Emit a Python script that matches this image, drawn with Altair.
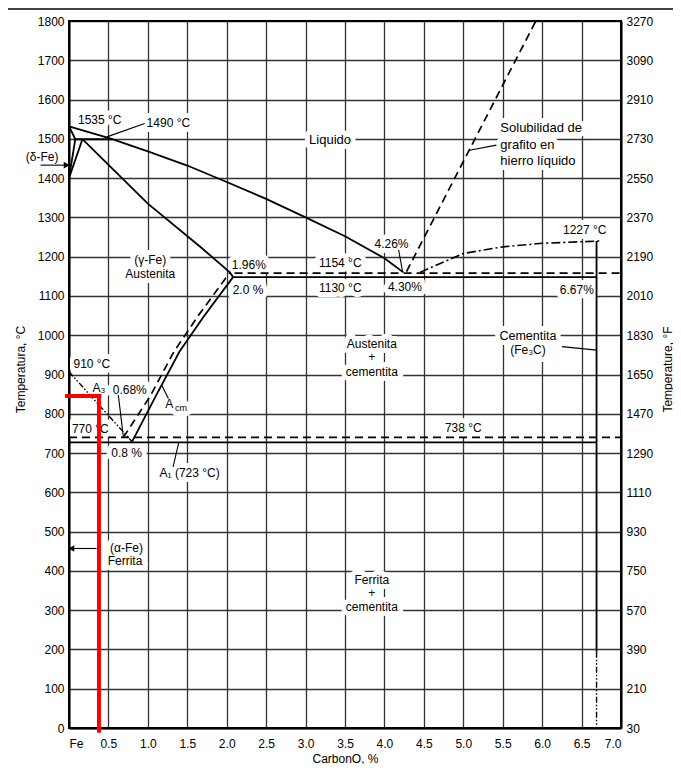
import altair as alt
import pandas as pd

X_TICKS = [i * 0.5 for i in range(15)]
Y_TICKS = list(range(0, 1900, 100))
FRAME_C = [0, 7, 7, 0, 0]
FRAME_T = [0, 0, 1800, 1800, 0]

# ---- solid phase boundaries (carbon %, deg C) ----
liquidus_c = [0.0, 0.52, 1.0, 1.5, 2.0, 2.5, 3.0, 3.5, 4.0, 4.24]
liquidus_t = [1532, 1501, 1468, 1432, 1390, 1347, 1300, 1252, 1196, 1160]
peritectic_c = [0.06, 0.55]
peritectic_t = [1499, 1499]
delta_solidus_c = [0.0, 0.08]
delta_solidus_t = [1532, 1499]
delta_solvus_c = [0.0, 0.08]
delta_solvus_t = [1400, 1499]
gamma_delta_c = [0.0, 0.17]
gamma_delta_t = [1400, 1499]
solidus_c = [0.17, 1.0, 1.66, 2.04, 2.08]
solidus_t = [1499, 1335, 1226, 1160, 1148]
eutectic_c = [2.08, 6.69]
eutectic_t = [1148, 1148]
acm_c = [0.80, 1.10, 1.40, 1.70, 2.08]
acm_t = [729, 845, 958, 1045, 1148]
a1_c = [0.0, 6.69]
a1_t = [727, 727]
cem_c = [6.69, 6.69]
cem_t = [1240, 194]

# ---- dashed (graphite system) ----
eut_g_c = [2.10, 7.0]
eut_g_t = [1158, 1158]
eutd_g_c = [0.0, 7.0]
eutd_g_t = [740, 740]
graphite_c = [4.28, 5.92]
graphite_t = [1162, 1800]
acm_g_c = [0.69, 1.03, 1.33, 1.64, 2.04]
acm_g_t = [740, 845, 958, 1050, 1160]

# ---- dash-dot ----
cem_liq_c = [4.45, 5.0, 5.5, 6.0, 6.5, 6.75]
cem_liq_t = [1160, 1208, 1225, 1234, 1238, 1240]

# ---- dash-dot-dot ----
a3_c = [0.0, 0.80]
a3_t = [907, 729]
cem_low_c = [6.69, 6.69]
cem_low_t = [194, 0]

# ---- leader lines ----
ptr_1490_c = [0.96, 0.48]
ptr_1490_t = [1539, 1505]
ptr_graf_c = [5.42, 5.08]
ptr_graf_t = [1484, 1471]
ptr_426_c = [4.18, 4.23]
ptr_426_t = [1217, 1162]
ptr_cem_c = [6.25, 6.69]
ptr_cem_t = [971, 962]
ptr_068_c = [0.625, 0.69]
ptr_068_t = [848, 740]
ptr_a1_c = [1.32, 1.39]
ptr_a1_t = [665, 725]
ptr_acm_c = [1.26, 1.175]
ptr_acm_t = [839, 873]

# ---- arrows ----
arrow_delta_c = [-0.36, -0.04]
arrow_delta_t = [1433, 1433]
arrow_alpha_c = [0.35, 0.04]
arrow_alpha_t = [457, 457]
head_c = [-0.03, 0.03]
head_t = [1433, 457]
head_shape = ["triangle-right", "triangle-left"]

# ---- red annotation ----
red_h_c = [-0.05, 0.41]
red_h_t = [845, 845]
red_v_c = [0.38, 0.38]
red_v_t = [850, -12]

# ---- labels ----
lab_text = ["1535 °C", "1490 °C", "(δ-Fe)", "Liquido", "(γ-Fe)", "Austenita",
            "1.96%", "2.0 %", "1154 °C", "1130 °C", "4.26%", "4.30%",
            "1227 °C", "6.67%", "Austenita", "+", "cementita",
            "Cementita", "(Fe₃C)", "738 °C", "910 °C", "A₃", "0.68%",
            "770 °C", "0.8 %", "A₁ (723 °C)", "A", "cm",
            "(α-Fe)", "Ferrita", "Ferrita", "+", "cementita"]
lab_c = [0.39, 1.26, -0.34, 3.31, 1.03, 1.03,
         2.28, 2.27, 3.44, 3.44, 4.09, 4.26,
         6.54, 6.44, 3.84, 3.84, 3.84,
         5.82, 5.82, 5.0, 0.29, 0.38, 0.77,
         0.27, 0.73, 1.53, 1.27, 1.42,
         0.73, 0.71, 3.84, 3.84, 3.84]
lab_t = [1548, 1540, 1454, 1497, 1191, 1156,
         1179, 1115, 1183, 1119, 1232, 1122,
         1268, 1115, 978, 944, 906,
         998, 962, 764, 927, 865, 860,
         760, 699, 648, 825, 815,
         459, 426, 377, 344, 308]
lab_fs = [12, 12, 12, 13, 12, 12,
          12, 12, 12, 12, 12, 12,
          12, 12, 12, 12, 12,
          12.5, 12, 12, 12, 12, 12,
          12, 12, 12, 12, 9,
          12, 12, 12, 12, 12]

sol_text = ["Solubilidad de", "grafito en", "hierro líquido"]
sol_c = [5.47, 5.47, 5.47]
sol_t = [1527, 1484, 1444]
sol_fs = [13, 13, 13]


def lines(items):
    rows = []
    for name, cs, ts in items:
        for i, (c, t) in enumerate(zip(cs, ts)):
            rows.append({"name": name, "o": i, "c": c, "t": t})
    return pd.DataFrame(rows)


FONT = "Liberation Sans"
XS = alt.Scale(domain=[0, 7], nice=False, zero=False)
YS = alt.Scale(domain=[0, 1800], nice=False, zero=False)

x_axis = alt.Axis(values=X_TICKS,
                  labelExpr="datum.value == 0 ? 'Fe' : format(datum.value, '.1f')",
                  title="CarbonO, %", grid=True, labelPadding=10,
                  titleY=30, titleBaseline="middle", titleFontSize=12)
y_axis = alt.Axis(values=Y_TICKS, format="d", title="Temperatura, °C",
                  grid=True, labelPadding=5, titleAngle=270, titleX=-49,
                  titleY=348, titleBaseline="middle", titleAlign="center",
                  titleFontSize=12)


def X():
    return alt.X("c:Q", scale=XS, axis=x_axis)


def Y():
    return alt.Y("t:Q", scale=YS, axis=y_axis)


solid_df = lines([
    ("liq", liquidus_c, liquidus_t),
    ("per", peritectic_c, peritectic_t),
    ("dsol", delta_solidus_c, delta_solidus_t),
    ("dsv", delta_solvus_c, delta_solvus_t),
    ("gd", gamma_delta_c, gamma_delta_t),
    ("sol", solidus_c, solidus_t),
    ("eut", eutectic_c, eutectic_t),
    ("acm", acm_c, acm_t),
    ("a1", a1_c, a1_t),
    ("cem", cem_c, cem_t),
])
dashed_df = lines([
    ("eg", eut_g_c, eut_g_t),
    ("edg", eutd_g_c, eutd_g_t),
    ("gr", graphite_c, graphite_t),
    ("acmg", acm_g_c, acm_g_t),
])
dashdot_df = lines([("cl", cem_liq_c, cem_liq_t)])
ddd_df = lines([("a3", a3_c, a3_t), ("cl2", cem_low_c, cem_low_t)])
ptr_df = lines([
    ("p1", ptr_1490_c, ptr_1490_t),
    ("p2", ptr_graf_c, ptr_graf_t),
    ("p3", ptr_426_c, ptr_426_t),
    ("p4", ptr_cem_c, ptr_cem_t),
    ("p5", ptr_068_c, ptr_068_t),
    ("p6", ptr_a1_c, ptr_a1_t),
    ("p7", ptr_acm_c, ptr_acm_t),
    ("ad", arrow_delta_c, arrow_delta_t),
    ("aa", arrow_alpha_c, arrow_alpha_t),
])
frame_df = lines([("frame", FRAME_C, FRAME_T)])
red_df = lines([("rh", red_h_c, red_h_t), ("rv", red_v_c, red_v_t)])
head_df = pd.DataFrame({"c": head_c, "t": head_t, "s": head_shape})
lab_df = pd.DataFrame({"txt": lab_text, "c": lab_c, "t": lab_t, "fs": lab_fs})
sol_df = pd.DataFrame({"txt": sol_text, "c": sol_c, "t": sol_t, "fs": sol_fs})

SIZE = alt.Size("fs:Q", scale=None, legend=None)

halo = alt.Chart(lab_df).mark_text(font=FONT, color="white", stroke="white",
                                   strokeWidth=10, strokeJoin="round").encode(
    x=X(), y=Y(), text="txt:N", size=SIZE)
halo2 = alt.Chart(sol_df).mark_text(font=FONT, align="left", color="white",
                                    stroke="white", strokeWidth=10,
                                    strokeJoin="round").encode(
    x=X(), y=Y(), text="txt:N", size=SIZE)

frame = alt.Chart(frame_df).mark_line(color="black", strokeWidth=2).encode(
    x=X(), y=Y(), detail="name:N", order="o:Q")
solid = alt.Chart(solid_df).mark_line(color="black", strokeWidth=1.8).encode(
    x=X(), y=Y(), detail="name:N", order="o:Q")
dashed = alt.Chart(dashed_df).mark_line(color="black", strokeWidth=1.7,
                                        strokeDash=[8, 5]).encode(
    x=X(), y=Y(), detail="name:N", order="o:Q")
dashdot = alt.Chart(dashdot_df).mark_line(color="black", strokeWidth=1.6,
                                          strokeDash=[9, 3, 2, 3]).encode(
    x=X(), y=Y(), detail="name:N", order="o:Q")
ddd = alt.Chart(ddd_df).mark_line(color="black", strokeWidth=1.4,
                                  strokeDash=[6, 2, 1.5, 2, 1.5, 2]).encode(
    x=X(), y=Y(), detail="name:N", order="o:Q")
ptr = alt.Chart(ptr_df).mark_line(color="black", strokeWidth=1.1).encode(
    x=X(), y=Y(), detail="name:N", order="o:Q")
heads = alt.Chart(head_df).mark_point(filled=True, color="black", opacity=1,
                                      size=45).encode(
    x=X(), y=Y(), shape=alt.Shape("s:N", scale=None, legend=None))
labels = alt.Chart(lab_df).mark_text(font=FONT, color="black").encode(
    x=X(), y=Y(), text="txt:N", size=SIZE)
labels2 = alt.Chart(sol_df).mark_text(font=FONT, align="left",
                                      color="black").encode(
    x=X(), y=Y(), text="txt:N", size=SIZE)
red = alt.Chart(red_df).mark_line(color="#ff0000", strokeWidth=4).encode(
    x=X(), y=Y(), detail="name:N", order="o:Q")
top_rule = alt.Chart(pd.DataFrame({"a": [0]})).mark_rule(
    color="black", strokeWidth=1.5).encode(
    x=alt.value(-61), x2=alt.value(613), y=alt.value(-12))

main = alt.layer(halo, halo2, frame, solid, dashed, dashdot, ddd, ptr, heads,
                 labels, labels2, red, top_rule)

right_df = pd.DataFrame({"c": [0, 7], "t": [0, 1800]})
right = alt.Chart(right_df).mark_point(opacity=0).encode(
    x=X(),
    y=alt.Y("t:Q", scale=YS,
            axis=alt.Axis(orient="right", values=Y_TICKS,
                          labelExpr="format(datum.value * 1.8 + 30, 'd')",
                          title="Temperature, °F", grid=False, labelPadding=5,
                          titleAngle=270, titleX=46, titleY=348,
                          titleBaseline="middle", titleAlign="center",
                          titleFontSize=12)))

chart = alt.layer(main, right).resolve_scale(y="independent").properties(
    width=552, height=707,
    autosize=alt.AutoSizeParams(type="none"),
    padding={"left": 61, "top": 13, "right": 52, "bottom": 36},
).configure(font=FONT).configure_view(
    stroke="black", strokeWidth=2
).configure_axis(
    labelFont=FONT, labelFontSize=12, labelColor="black",
    titleFont=FONT, titleColor="black", titleFontWeight="normal",
    domainColor="black", domainWidth=2, ticks=False,
    gridColor="#333333", gridWidth=1.3, gridOpacity=1,
)

chart.save("out.html", embed_options={"renderer": "svg", "actions": False})
